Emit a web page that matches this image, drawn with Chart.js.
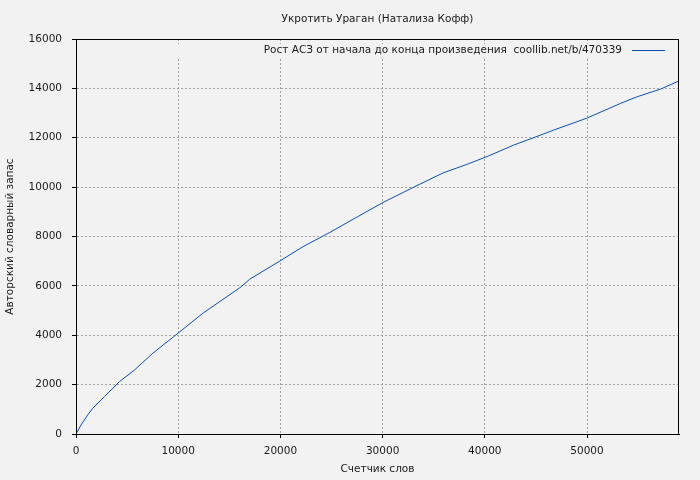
<!DOCTYPE html>
<html>
<head>
<meta charset="utf-8">
<script src="https://cdn.jsdelivr.net/npm/chart.js@4.4.0/dist/chart.umd.min.js"></script>
<style>
  html, body { margin: 0; padding: 0; background: #f2f2f2; }
  #wrap { width: 700px; height: 480px; }
</style>
</head>
<body>
<div id="wrap"><canvas id="vocabChart"></canvas></div>
<script>
// chart texts
const chartTitle = "Укротить Ураган (Натализа Кофф)";
const seriesLabel = "Рост АСЗ от начала до конца произведения  coollib.net/b/470339";
const xAxisTitle = "Счетчик слов";
const yAxisTitle = "Авторский словарный запас";

// series: words counted -> vocabulary size
const wordCounts = [0, 490, 1140, 1630, 2770, 4250, 5720, 7510, 9640, 12410, 16180, 16990,
    19960, 22220, 24770, 27120, 30000, 33000, 35940, 38240, 40350, 42800, 44760, 46730,
    49960, 53270, 54900, 57190, 59000];
const vocabSizes = [0, 365, 770, 1040, 1510, 2120, 2590, 3270, 3970, 4890, 5970, 6270,
    7010, 7590, 8150, 8700, 9370, 9990, 10580, 10920, 11260, 11700, 12000, 12310,
    12790, 13390, 13660, 13970, 14300];

// axis ticks
const xTickValues = [0, 10000, 20000, 30000, 40000, 50000];
const yTickValues = [0, 2000, 4000, 6000, 8000, 10000, 12000, 14000, 16000];

const bgColor = "#f2f2f2";
const lineColor = "#0b4fb5";
const fontFamily = "'DejaVu Sans', sans-serif";

// gnuplot style: title over plot, key inside top right, closed frame
const gnuplotLook = {
    id: "gnuplotLook",
    beforeDraw(chart) {
        const ctx = chart.ctx;
        ctx.save();
        ctx.fillStyle = bgColor;
        ctx.fillRect(0, 0, chart.width, chart.height);
        ctx.restore();
    },
    beforeDatasetsDraw(chart) {
        const a = chart.chartArea;
        const ctx = chart.ctx;
        ctx.save();
        // key box hides the grid behind it
        ctx.fillStyle = bgColor;
        ctx.fillRect(a.left + 1, a.top + 5, a.right - a.left - 2, 13);
        ctx.restore();
    },
    afterDraw(chart) {
        const a = chart.chartArea;
        const ctx = chart.ctx;
        ctx.save();
        ctx.strokeStyle = "#000";
        ctx.lineWidth = 1;
        ctx.strokeRect(Math.round(a.left) + 0.5, Math.round(a.top) + 0.5,
            Math.round(a.right - a.left) - 1, Math.round(a.bottom - a.top));
        ctx.fillStyle = "#1a1a1a";
        ctx.font = "10.5px " + fontFamily;
        ctx.textAlign = "center";
        ctx.textBaseline = "middle";
        ctx.fillText(chartTitle, (a.left + a.right) / 2, 19);
        // key entry: label then line sample
        const ds = chart.data.datasets[0];
        const keyY = a.top + 11;
        const sampleRight = a.right - 14;
        const sampleLeft = sampleRight - 33;
        ctx.textAlign = "right";
        ctx.fillText(ds.label, sampleLeft - 10, keyY);
        ctx.strokeStyle = ds.borderColor;
        ctx.beginPath();
        ctx.moveTo(sampleLeft, Math.round(keyY) + 0.5);
        ctx.lineTo(sampleRight, Math.round(keyY) + 0.5);
        ctx.stroke();
        ctx.restore();
    }
};

const ctx = document.getElementById("vocabChart").getContext("2d");
new Chart(ctx, {
    type: "line",
    data: {
        datasets: [{
            label: seriesLabel,
            data: wordCounts.map((w, i) => ({ x: w, y: vocabSizes[i] })),
            borderColor: lineColor,
            borderWidth: 1,
            pointRadius: 0,
            fill: false,
            tension: 0
        }]
    },
    options: {
        responsive: true,
        maintainAspectRatio: false,
        animation: false,
        layout: { padding: { left: 0, right: 21, top: 39, bottom: 0 } },
        plugins: {
            legend: { display: false },
            title: { display: false },
            tooltip: { enabled: false }
        },
        scales: {
            x: {
                type: "linear",
                min: 0,
                max: 59000,
                afterBuildTicks: scale => { scale.ticks = xTickValues.map(v => ({ value: v })); },
                afterFit: scale => { scale.height = 46; },
                ticks: {
                    color: "#1a1a1a",
                    padding: 7,
                    maxRotation: 0,
                    font: { family: fontFamily, size: 10.5 },
                    callback: v => String(v)
                },
                grid: { color: "#a0a0a0", tickLength: 4, tickColor: "#000" },
                border: { display: true, color: "#000", dash: [2, 2] },
                title: {
                    display: true,
                    text: xAxisTitle,
                    color: "#1a1a1a",
                    font: { family: fontFamily, size: 10.5 },
                    padding: { top: 0, bottom: 4 }
                }
            },
            y: {
                type: "linear",
                min: 0,
                max: 16000,
                afterBuildTicks: scale => { scale.ticks = yTickValues.map(v => ({ value: v })); },
                afterFit: scale => { scale.width = 76; },
                ticks: {
                    color: "#1a1a1a",
                    padding: 10,
                    font: { family: fontFamily, size: 10.5 },
                    callback: v => String(v)
                },
                grid: { color: "#a0a0a0", tickLength: 4, tickColor: "#000" },
                border: { display: true, color: "#000", dash: [2, 2] },
                title: {
                    display: true,
                    text: yAxisTitle,
                    color: "#1a1a1a",
                    font: { family: fontFamily, size: 10.5 },
                    padding: { top: 4, bottom: 0 }
                }
            }
        }
    },
    plugins: [gnuplotLook]
});
</script>
</body>
</html>
